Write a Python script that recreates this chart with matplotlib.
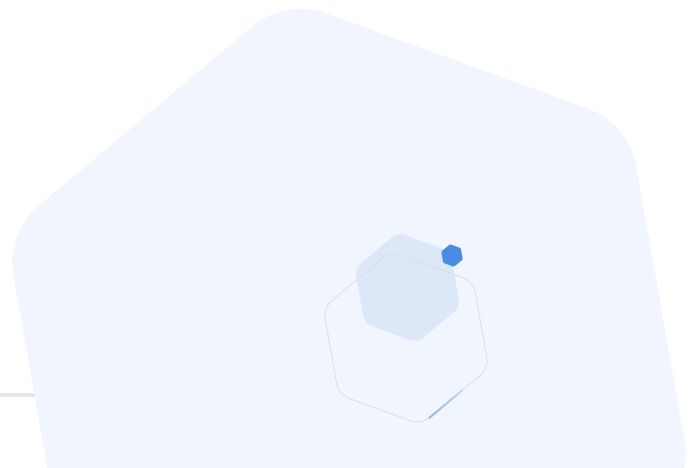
import numpy as np
import matplotlib
matplotlib.use("Agg")
import matplotlib.pyplot as plt
from matplotlib.patches import Polygon
from matplotlib.collections import LineCollection

# --- data (progress indicator along the outline hexagon edge) ---
shape_names = ["background", "outline", "fill", "marker"]
progress_range = [0.12, 0.60]  # fraction of the highlighted edge that is drawn

W, H = 700, 468
fig = plt.figure(figsize=(W / 100, H / 100), dpi=100)
ax = fig.add_axes([0, 0, 1, 1])
ax.set_xlim(0, W)
ax.set_ylim(H, 0)
ax.axis("off")

ANGLES = np.deg2rad([-100, -40, 20, 80, 140, -160])


def hex_vertices(cx, cy, R):
    return np.array([[cx + R * np.cos(a), cy + R * np.sin(a)] for a in ANGLES])


def rounded_hex(cx, cy, R, r, n=24):
    verts = hex_vertices(cx, cy, R)
    pts = []
    for i in range(6):
        V = verts[i]
        P = verts[i - 1]
        N = verts[(i + 1) % 6]
        u1 = (P - V) / np.linalg.norm(P - V)
        u2 = (N - V) / np.linalg.norm(N - V)
        d = r / np.tan(np.deg2rad(60))
        T1 = V + u1 * d
        T2 = V + u2 * d
        b = (u1 + u2) / np.linalg.norm(u1 + u2)
        C = V + b * r / np.sin(np.deg2rad(60))
        a1 = np.arctan2(*(T1 - C)[::-1])
        a2 = np.arctan2(*(T2 - C)[::-1])
        delta = (a2 - a1 + np.pi) % (2 * np.pi) - np.pi
        for s in np.linspace(0, 1, n):
            a = a1 + delta * s
            pts.append(C + r * np.array([np.cos(a), np.sin(a)]))
    return np.array(pts)


# faint horizontal rule behind the large shape
ax.plot([0, 80], [395, 395], color="#e6e6e6", lw=2.9, solid_capstyle="butt", zorder=1)

# large background hexagon
ax.add_patch(Polygon(rounded_hex(349, 358, 365, 75), closed=True,
                     facecolor="#f0f5fe", edgecolor="none", zorder=2))

# filled inner hexagon
ax.add_patch(Polygon(rounded_hex(407.5, 287.5, 56, 14), closed=True,
                     facecolor="#dce8f8", edgecolor="none", zorder=3))

# outline hexagon
ocx, ocy, oR = 406, 338, 88
ax.add_patch(Polygon(rounded_hex(ocx, ocy, oR, 20), closed=True,
                     facecolor="none", edgecolor="#d9dee8", lw=0.7, zorder=4))

# progress segment on the lower-right edge
v = hex_vertices(ocx, ocy, oR)
Vb, Vr = v[3], v[2]
ts = np.linspace(progress_range[0], progress_range[1], 30)
pts = np.array([Vb + t * (Vr - Vb) for t in ts])
segs = np.stack([pts[:-1], pts[1:]], axis=1)
c0 = np.array(matplotlib.colors.to_rgb("#8fb2e8"))
c1 = np.array(matplotlib.colors.to_rgb("#c6d6ef"))
cols = [c0 + (c1 - c0) * (i / (len(segs) - 1)) for i in range(len(segs))]
ax.add_collection(LineCollection(segs, colors=cols, linewidths=1.3, zorder=5,
                                 capstyle="round"))

# small solid marker hexagon
ax.add_patch(Polygon(rounded_hex(452, 255.5, 11.5, 3), closed=True,
                     facecolor="#4a8ce2", edgecolor="none", zorder=6))

fig.savefig("out.png", dpi=100, facecolor="white")
